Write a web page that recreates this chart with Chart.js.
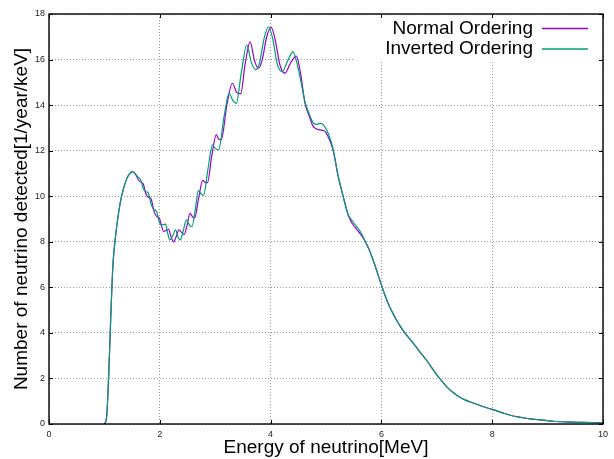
<!DOCTYPE html>
<html>
<head>
<meta charset="utf-8">
<script src="https://cdn.jsdelivr.net/npm/chart.js@4.4.1/dist/chart.umd.min.js"></script>
<style>
  html, body { margin: 0; padding: 0; background: #fff; }
  #wrap { width: 614px; height: 459px; }
</style>
</head>
<body>
<div id="wrap"><canvas id="spectrum"></canvas></div>
<script>
// rising edge, same for both orderings
const riseEnergy = [1.00, 1.04, 1.075, 1.105, 1.135, 1.16, 1.19, 1.24, 1.31, 1.40, 1.46, 1.50];
const riseRate   = [0, 0.3, 2.0, 4.0, 6.0, 7.2, 8.0, 9.0, 10.0, 10.75, 11.0, 11.08];

// oscillating part, normal ordering
const noEnergy = [1.56, 1.62, 1.665, 1.70, 1.75, 1.80, 1.84, 1.90, 1.95, 1.99, 2.03, 2.07, 2.115, 2.16, 2.205, 2.25,
  2.30, 2.345, 2.40, 2.44, 2.49, 2.545, 2.59, 2.63, 2.70, 2.775, 2.82, 2.86, 2.94, 3.02, 3.065, 3.11, 3.21, 3.31,
  3.39, 3.46, 3.54, 3.63, 3.71, 3.78, 3.85, 3.93, 4.01, 4.08, 4.17, 4.26, 4.36, 4.465, 4.54, 4.62, 4.70, 4.76,
  4.83, 4.92, 4.98, 5.05, 5.13, 5.22, 5.31, 5.40, 5.48, 5.55, 5.62];
const noRate = [10.98, 10.7, 10.6, 10.55, 10.1, 9.95, 9.9, 9.3, 9.1, 9.05, 8.7, 8.45, 8.5, 8.55, 8.2, 8.0,
  8.25, 8.52, 8.4, 8.32, 8.7, 9.25, 9.1, 9.05, 9.9, 10.7, 10.6, 10.6, 11.8, 12.7, 12.5, 12.48, 14.0, 14.96,
  14.55, 14.5, 15.8, 16.78, 15.95, 15.62, 16.0, 17.0, 17.41, 16.9, 15.75, 15.4, 15.85, 16.15, 15.4, 14.1, 13.5, 13.1,
  12.95, 12.9, 12.85, 12.55, 12.0, 10.86, 9.98, 9.17, 8.78, 8.55, 8.35];

// oscillating part, inverted ordering
const ioEnergy = [1.55, 1.60, 1.65, 1.70, 1.745, 1.79, 1.85, 1.90, 1.94, 1.98, 2.02, 2.06, 2.105, 2.14, 2.18, 2.23,
  2.285, 2.33, 2.37, 2.42, 2.48, 2.53, 2.58, 2.64, 2.695, 2.745, 2.79, 2.87, 2.95, 3.00, 3.06, 3.16, 3.25, 3.32,
  3.38, 3.47, 3.57, 3.65, 3.73, 3.80, 3.88, 3.96, 4.04, 4.12, 4.21, 4.31, 4.405, 4.48, 4.55, 4.62, 4.70, 4.76,
  4.82, 4.90, 4.97, 5.05, 5.13, 5.22, 5.31, 5.40, 5.48, 5.55, 5.62];
const ioRate = [11.0, 10.85, 10.75, 10.35, 10.2, 10.15, 9.6, 9.4, 9.35, 8.95, 8.75, 8.75, 8.78, 8.4, 8.08, 8.25,
  8.52, 8.2, 8.08, 8.45, 8.96, 8.75, 8.66, 9.4, 10.25, 10.1, 10.05, 11.2, 12.25, 12.1, 12.03, 13.5, 14.52, 14.2,
  14.08, 15.4, 16.64, 15.9, 15.55, 15.85, 16.9, 17.44, 16.9, 15.8, 15.47, 15.95, 16.34, 15.8, 15.0, 14.15, 13.6, 13.25,
  13.15, 13.2, 13.08, 12.7, 12.05, 10.9, 10.0, 9.2, 8.9, 8.68, 8.45];

// high energy tail, same for both
const tailEnergy = [5.70, 5.78, 5.85, 5.92, 6.0, 6.12, 6.26, 6.33, 6.40, 6.48, 6.57, 6.69, 6.81, 6.93, 7.05, 7.18,
  7.30, 7.40, 7.52, 7.66, 7.83, 8.0, 8.2, 8.44, 8.65, 8.86, 9.1, 9.34, 9.65, 10.0];
const tailRate = [8.05, 7.65, 7.2, 6.7, 6.1, 5.3, 4.62, 4.33, 4.08, 3.83, 3.56, 3.18, 2.81, 2.4, 2.0, 1.63,
  1.37, 1.2, 1.05, 0.92, 0.77, 0.64, 0.48, 0.32, 0.24, 0.18, 0.12, 0.09, 0.07, 0.05];

const seriesNames = ['Normal Ordering', 'Inverted Ordering'];
const seriesColors = ['#9400d3', '#009e73'];
const xTicks = [0, 2, 4, 6, 8, 10];
const yTicks = [0, 2, 4, 6, 8, 10, 12, 14, 16, 18];

const FONT = '"Liberation Sans", Arial, sans-serif';

function pts(es, rs) {
  return es.map((e, i) => ({ x: e, y: rs[i] }));
}

function curve(midE, midR) {
  return [...pts(riseEnergy, riseRate), ...pts(midE, midR), ...pts(tailEnergy, tailRate)];
}

// gnuplot style frame, inward ticks and the key box
const gnuFrame = {
  id: 'gnuFrame',
  beforeDatasetsDraw(chart) {
    const { ctx, chartArea: a } = chart;
    ctx.save();
    ctx.fillStyle = '#fff';
    ctx.fillRect(a.right - 248, a.top + 1, 247, 47);
    ctx.restore();
  },
  afterDraw(chart) {
    const { ctx, chartArea: a, scales } = chart;
    ctx.save();
    ctx.strokeStyle = '#000';
    ctx.lineWidth = 1;
    ctx.beginPath();
    xTicks.forEach(v => {
      const px = Math.round(scales.x.getPixelForValue(v)) + 0.5;
      ctx.moveTo(px, a.bottom); ctx.lineTo(px, a.bottom - 4);
      ctx.moveTo(px, a.top); ctx.lineTo(px, a.top + 4);
    });
    yTicks.forEach(v => {
      const py = Math.round(scales.y.getPixelForValue(v)) + 0.5;
      ctx.moveTo(a.left, py); ctx.lineTo(a.left + 4, py);
      ctx.moveTo(a.right, py); ctx.lineTo(a.right - 4, py);
    });
    ctx.stroke();
    ctx.lineWidth = 1.4;
    ctx.strokeRect(a.left, a.top, a.right - a.left, a.bottom - a.top);

    // key
    ctx.font = '19px ' + FONT;
    ctx.textAlign = 'right';
    ctx.textBaseline = 'middle';
    seriesNames.forEach((name, i) => {
      const y = a.top + 14.5 + i * 20.5;
      ctx.fillStyle = '#000';
      ctx.fillText(name, a.right - 70, y);
      ctx.strokeStyle = seriesColors[i];
      ctx.lineWidth = 1.3;
      ctx.beginPath();
      ctx.moveTo(a.right - 61, y);
      ctx.lineTo(a.right - 15, y);
      ctx.stroke();
    });
    ctx.restore();
  }
};

new Chart(document.getElementById('spectrum'), {
  type: 'line',
  data: {
    datasets: [
      { label: seriesNames[0], data: curve(noEnergy, noRate), borderColor: seriesColors[0], order: 1 },
      { label: seriesNames[1], data: curve(ioEnergy, ioRate), borderColor: seriesColors[1], order: 0 }
    ]
  },
  options: {
    responsive: true,
    maintainAspectRatio: false,
    animation: false,
    layout: { padding: { top: 14, right: 11, left: 0, bottom: 0 } },
    elements: {
      point: { radius: 0 },
      line: { borderWidth: 1.2, cubicInterpolationMode: 'monotone', fill: false }
    },
    plugins: { legend: { display: false }, tooltip: { enabled: false } },
    scales: {
      x: {
        type: 'linear',
        min: 0, max: 10,
        afterBuildTicks: s => { s.ticks = xTicks.map(v => ({ value: v })); },
        afterFit: s => { s.height = 35; },
        grid: { color: '#999', lineWidth: 1, drawTicks: false },
        border: { display: false, dash: [1, 2] },
        ticks: { padding: 5, color: '#222', font: { family: FONT, size: 9 }, maxRotation: 0 },
        title: { display: true, text: 'Energy of neutrino[MeV]', color: '#000',
                 font: { family: FONT, size: 19 }, padding: { top: 0, bottom: 0 } }
      },
      y: {
        min: 0, max: 18,
        afterBuildTicks: s => { s.ticks = yTicks.map(v => ({ value: v })); },
        afterFit: s => { s.width = 49; },
        grid: { color: '#999', lineWidth: 1, drawTicks: false },
        border: { display: false, dash: [1, 2] },
        ticks: { padding: 4, color: '#222', font: { family: FONT, size: 9 } },
        title: { display: true, text: 'Number of neutrino detected[1/year/keV]', color: '#000',
                 font: { family: FONT, size: 19 }, padding: { top: 10, bottom: 0 } }
      }
    }
  },
  plugins: [gnuFrame]
});
</script>
</body>
</html>
